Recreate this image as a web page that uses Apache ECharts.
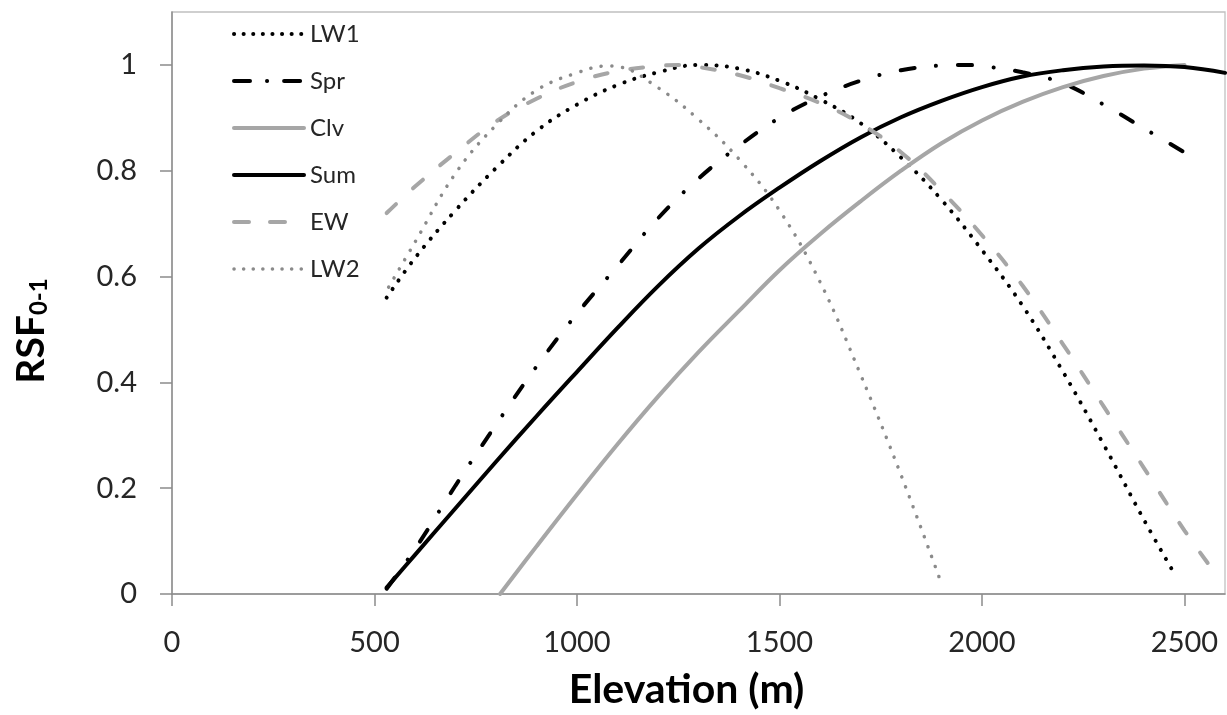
<!DOCTYPE html>
<html>
<head>
<meta charset="utf-8">
<script src="https://cdn.jsdelivr.net/npm/echarts@6/dist/echarts.min.js"></script>
<style>
html,body{margin:0;padding:0;background:#fff;}
#main{width:1227px;height:715px;}
</style>
</head>
<body>
<div id="main"></div>
<script>
// ---- data ----
const xTicks = [0, 500, 1000, 1500, 2000, 2500];
const yTicks = [0, 0.2, 0.4, 0.6, 0.8, 1];

const lw1X = [530,600,700,800,900,1000,1100,1200,1300,1400,1500,1600,1700,1800,1900,2000,2100,2200,2300,2400,2470];
const lw1Y = [0.56,0.635,0.725,0.805,0.875,0.925,0.962,0.986,1.0,0.993,0.97,0.935,0.89,0.825,0.745,0.65,0.545,0.42,0.283,0.14,0.045];

const sprX = [530,600,700,800,900,1000,1100,1200,1300,1400,1500,1600,1700,1800,1900,1950,2000,2100,2200,2300,2400,2510];
const sprY = [0.01,0.085,0.205,0.32,0.43,0.53,0.62,0.71,0.785,0.847,0.9,0.94,0.97,0.99,0.999,1.0,0.998,0.986,0.965,0.925,0.88,0.83];

const clvX = [810,900,1000,1100,1200,1300,1400,1500,1600,1700,1800,1900,2000,2100,2200,2300,2400,2500];
const clvY = [0,0.09,0.188,0.283,0.373,0.457,0.535,0.612,0.68,0.742,0.8,0.852,0.895,0.93,0.958,0.979,0.993,1.0];

const sumX = [530,600,700,800,900,1000,1100,1200,1300,1400,1500,1600,1700,1800,1900,2000,2100,2200,2300,2400,2500,2600];
const sumY = [0.012,0.074,0.162,0.25,0.336,0.42,0.503,0.582,0.653,0.714,0.768,0.818,0.863,0.901,0.932,0.958,0.978,0.99,0.997,0.999,0.996,0.985];

const ewX = [530,600,700,800,900,1000,1100,1200,1250,1300,1400,1500,1600,1700,1800,1900,2000,2100,2200,2300,2400,2500,2585];
const ewY = [0.72,0.77,0.834,0.893,0.936,0.968,0.988,0.998,1.0,0.996,0.981,0.956,0.928,0.889,0.835,0.762,0.678,0.583,0.472,0.355,0.238,0.12,0.03];

const lw2X = [535,600,700,800,900,1000,1075,1100,1200,1300,1400,1500,1600,1700,1800,1895];
const lw2Y = [0.58,0.665,0.795,0.886,0.952,0.985,0.998,0.997,0.957,0.897,0.822,0.725,0.59,0.415,0.225,0.03];

const seriesNames = ['LW1', 'Spr', 'Clv', 'Sum', 'EW', 'LW2'];

function pairs(xs, ys) { return xs.map((x, i) => [x, ys[i]]); }

const FONT = 'Lato, "Open Sans", sans-serif';
const TXT = '#262626';
const AXC = '#8c8c8c';

const styles = {
  LW1: {color: '#000000', width: 4, type: [0.1, 10.4]},
  Spr: {color: '#000000', width: 4, type: [14, 21.7, 0.1, 21.8]},
  Clv: {color: '#a6a6a6', width: 4, type: 'solid'},
  Sum: {color: '#000000', width: 4, type: 'solid'},
  EW:  {color: '#a6a6a6', width: 4, type: [13, 23]},
  LW2: {color: '#8a8a8a', width: 3.5, type: [0.1, 10.5]}
};
const legendStyles = {
  LW1: [0.1, 9.5],
  Spr: [16, 17, 0.1, 17],
  Clv: 'solid',
  Sum: 'solid',
  EW:  [15, 21],
  LW2: [0.1, 9.5]
};

const chart = echarts.init(document.getElementById('main'), null, {renderer: 'canvas'});

function lineSeries(name, xs, ys) {
  const s = styles[name];
  return {
    name: name,
    type: 'line',
    data: pairs(xs, ys),
    showSymbol: false,
    symbol: 'none',
    smooth: 0.4,
    lineStyle: {color: s.color, width: s.width, type: s.type, cap: 'round'},
    itemStyle: {color: s.color},
    emphasis: {disabled: true}
  };
}

const option = {
  animation: false,
  backgroundColor: '#fff',
  grid: {left: 172, right: 2, top: 12, bottom: 121, show: true, borderColor: '#c0c0c0', borderWidth: 1.3},
  legend: {
    orient: 'vertical',
    left: 227,
    top: 17,
    itemWidth: 70,
    itemHeight: 14,
    itemGap: 23,
    selectedMode: false,
    itemStyle: {color: 'rgba(0,0,0,0)', borderWidth: 0, opacity: 0},
    data: seriesNames.map(n => ({
      name: n,
      itemStyle: {color: 'rgba(0,0,0,0)', borderWidth: 0, opacity: 0},
      lineStyle: {color: styles[n].color, width: styles[n].width, type: legendStyles[n], cap: 'round', opacity: 1}
    })),
    textStyle: {fontSize: 24, lineHeight: 24, fontFamily: FONT, color: TXT, padding: [0, 0, 0, 1]}
  },
  xAxis: {
    type: 'value', min: 0, max: 2600, interval: 500,
    axisLine: {show: true, onZero: false, lineStyle: {color: AXC, width: 1.5}},
    axisTick: {show: true, inside: false, length: 12, customValues: xTicks, lineStyle: {color: AXC, width: 1.5}},
    axisLabel: {customValues: xTicks, margin: 34, fontSize: 29, fontFamily: FONT, color: TXT,
                formatter: v => String(v)},
    splitLine: {show: false},
    name: 'Elevation (m)',
    nameLocation: 'middle',
    nameGap: 75,
    nameTextStyle: {fontSize: 41, fontWeight: 'bold', fontFamily: FONT, color: '#000', padding: [0, 24, 0, 0]}
  },
  yAxis: {
    type: 'value', min: 0, max: 1.1, interval: 0.2,
    axisLine: {show: true, lineStyle: {color: AXC, width: 1.5}},
    axisTick: {show: true, inside: false, length: 12, customValues: yTicks, lineStyle: {color: AXC, width: 1.5}},
    axisLabel: {customValues: yTicks, margin: 35, fontSize: 29, fontFamily: FONT, color: TXT,
                formatter: v => String(v)},
    splitLine: {show: false},
    name: '{a|RSF}{b|0-1}',
    nameLocation: 'middle',
    nameGap: 121,
    nameTextStyle: {
      fontFamily: FONT, color: '#000', padding: [0, 56, 0, 0],
      rich: {
        a: {fontSize: 39, fontWeight: 'bold', fontFamily: FONT, color: '#000', lineHeight: 40},
        b: {fontSize: 24, fontWeight: 'bold', fontFamily: FONT, color: '#000', lineHeight: 14, verticalAlign: 'bottom'}
      }
    }
  },
  series: seriesNames.map(n => {
    const src = {LW1: [lw1X, lw1Y], Spr: [sprX, sprY], Clv: [clvX, clvY], Sum: [sumX, sumY], EW: [ewX, ewY], LW2: [lw2X, lw2Y]}[n];
    return lineSeries(n, src[0], src[1]);
  })
};
chart.setOption(option);
</script>
</body>
</html>
